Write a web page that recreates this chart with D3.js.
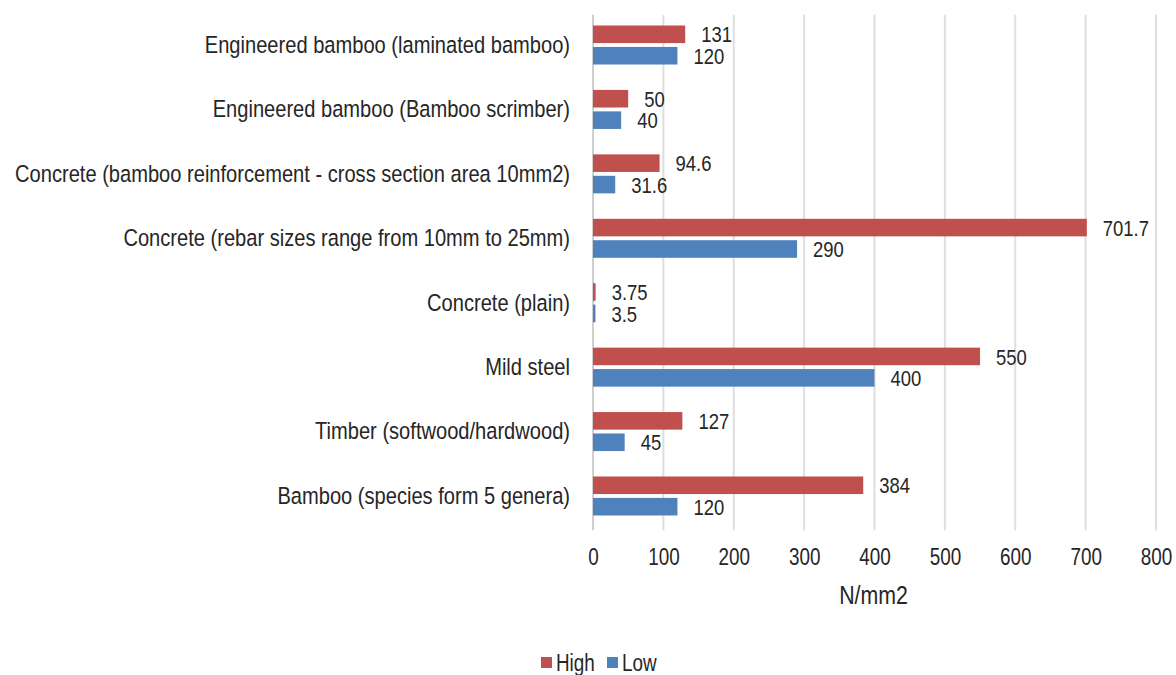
<!DOCTYPE html>
<html>
<head>
<meta charset="utf-8">
<script src="https://cdn.jsdelivr.net/npm/d3@7"></script>
<style>
  html, body { margin: 0; padding: 0; background: #fff; }
  svg text { font-family: "Liberation Sans", Arial, sans-serif; fill: #262626; }
</style>
</head>
<body>
<svg id="chart" width="1176" height="675"></svg>
<script>
// Strength of structural materials, N/mm2
const categories = [
  "Engineered bamboo (laminated bamboo)",
  "Engineered bamboo (Bamboo scrimber)",
  "Concrete (bamboo reinforcement - cross section area 10mm2)",
  "Concrete (rebar sizes range from 10mm to 25mm)",
  "Concrete (plain)",
  "Mild steel",
  "Timber (softwood/hardwood)",
  "Bamboo (species form 5 genera)"
];
const highValues = [131, 50, 94.6, 701.7, 3.75, 550, 127, 384];
const lowValues  = [120, 40, 31.6, 290, 3.5, 400, 45, 120];
const seriesNames = ["High", "Low"];
const xTicks = [0, 100, 200, 300, 400, 500, 600, 700, 800];
const axisTitle = "N/mm2";

const colors = { High: "#C0504D", Low: "#4F81BD" };

// narrow face: squeeze each glyph run horizontally
const NARROW = 0.82;
function condense(sel) {
  sel.each(function () {
    const w = this.getComputedTextLength();
    d3.select(this).attr("textLength", w * NARROW).attr("lengthAdjust", "spacingAndGlyphs");
  });
}

const svg = d3.select("#chart");
const plotLeft = 593, plotRight = 1156, plotTop = 12.8, plotBottom = 528.2;

const x = d3.scaleLinear().domain([0, 800]).range([plotLeft, plotRight]);
const y = d3.scaleBand().domain(categories).range([plotTop, plotBottom]).padding(0);
const groupH = 39;
const ySub = d3.scaleBand().domain(seriesNames)
  .range([(y.bandwidth() - groupH) / 2, (y.bandwidth() + groupH) / 2])
  .paddingInner(0.18);

const rows = categories.map((c, i) => ({ cat: c, High: highValues[i], Low: lowValues[i] }));

// vertical gridlines
svg.append("g").selectAll("line").data(xTicks).join("line")
  .attr("x1", d => x(d)).attr("x2", d => x(d))
  .attr("y1", plotTop + 2).attr("y2", plotBottom + 2)
  .attr("stroke", d => d === 0 ? "#cfcfcf" : "#dedede")
  .attr("stroke-width", 2);

// x tick labels
const xAxis = d3.axisBottom(x).tickValues(xTicks).tickSize(0).tickPadding(0);
const gx = svg.append("g").attr("transform", `translate(0, ${plotBottom + 29})`).call(xAxis);
gx.select(".domain").remove();
gx.selectAll("text").attr("font-size", 23).attr("fill", "#262626")
  .attr("dy", "0.35em").call(condense);

// axis title
svg.append("text").attr("x", (plotLeft + plotRight) / 2 - 1).attr("y", 604)
  .attr("text-anchor", "middle").attr("font-size", 26).text(axisTitle).call(condense);

// category labels
const gy = svg.append("g").attr("transform", `translate(${plotLeft - 23}, 0)`)
  .call(d3.axisLeft(y).tickSize(0).tickPadding(0));
gy.select(".domain").remove();
gy.selectAll("text").attr("font-size", 24.5).attr("fill", "#262626").call(condense);

// bars
const groups = svg.append("g").selectAll("g").data(rows).join("g")
  .attr("transform", d => `translate(0, ${y(d.cat)})`);

groups.selectAll("rect").data(d => seriesNames.map(k => ({ key: k, value: d[k] })))
  .join("rect")
  .attr("x", x(0))
  .attr("y", d => ySub(d.key))
  .attr("width", d => x(d.value) - x(0))
  .attr("height", ySub.bandwidth())
  .attr("fill", d => colors[d.key]);

// value labels
groups.selectAll("text.val").data(d => seriesNames.map(k => ({ key: k, value: d[k] })))
  .join("text")
  .attr("class", "val")
  .attr("x", d => x(d.value) + 16)
  .attr("y", d => ySub(d.key) + ySub.bandwidth() / 2)
  .attr("dy", "0.36em")
  .attr("font-size", 22.5)
  .text(d => String(d.value))
  .call(condense);

// legend
const legend = svg.append("g").attr("transform", "translate(541, 663)");
const items = [{ key: "High", dx: 0 }, { key: "Low", dx: 66 }];
const li = legend.selectAll("g").data(items).join("g")
  .attr("transform", d => `translate(${d.dx}, 0)`);
li.append("rect").attr("x", 0).attr("y", -6).attr("width", 11).attr("height", 11)
  .attr("fill", d => colors[d.key]);
li.append("text").attr("x", 15).attr("y", 0).attr("dy", "0.36em")
  .attr("font-size", 23).text(d => d.key).call(condense);
</script>
</body>
</html>
